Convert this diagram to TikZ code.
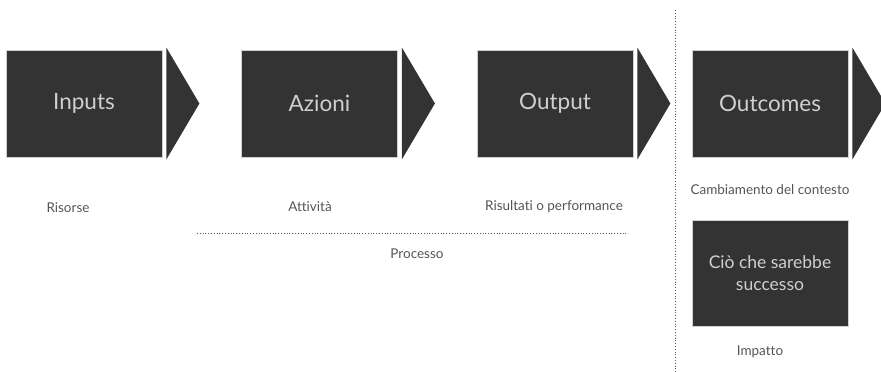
\documentclass[tikz,border=0pt]{standalone}
\usepackage{fontspec}
\setmainfont[Ligatures=NoCommon]{Lato}
\definecolor{boxfill}{HTML}{333333}
\definecolor{boxedge}{HTML}{D0D0D0}
\definecolor{boxtext}{HTML}{CFCFCF}
\definecolor{labtext}{HTML}{555555}
\definecolor{linecol}{HTML}{555555}
\tikzset{
  stagebox/.style={draw=boxedge, line width=0.8pt, fill=boxfill, minimum width=156pt, minimum height=107pt, inner sep=0pt, text=boxtext, font=\fontsize{22.5}{26}\selectfont, align=center},
  lab/.style={text=labtext, font=\fontsize{13.5}{16}\selectfont, inner sep=0pt},
  dotline/.style={draw=linecol, line width=0.9pt, dash pattern=on 1pt off 1.8pt}
}
\begin{document}
\begin{tikzpicture}[x=1pt,y=-1pt]
\useasboundingbox (0,0) rectangle (881,372);
\node[stagebox] (in) at (84,103.5) {Inputs};
\node[stagebox] (az) at (319.5,103.5) {Azioni};
\node[stagebox] (out) at (555,103.5) {Output};
\node[stagebox] (oc) at (770,103.5) {Outcomes};
\foreach \n in {in,az,out,oc}{
  \fill[boxfill] ([xshift=4pt,yshift=2pt]\n.north east) -- ([xshift=37pt]\n.east) -- ([xshift=4pt,yshift=-2pt]\n.south east) -- cycle;
}
\node[lab] (ris) at (68,208) {Risorse};
\node[lab] (att) at (310,207) {Attività};
\node[lab] (res) at (554,207) {Risultati o performance};
\coordinate (pl) at (197,233);
\coordinate (pr) at (627,233);
\draw[dotline] (pl) -- (pr);
\node[lab] (proc) at (417,254) {Processo};
\coordinate (vt) at (675,10);
\coordinate (vb) at (675,372);
\draw[dotline] (vt) -- (vb);
\node[lab] (camb) at (770,190) {Cambiamento del contesto};
\node[stagebox, minimum height=106pt, font=\fontsize{17.5}{22}\selectfont] (cio) at (770,273) {Ciò che sarebbe\\successo};
\node[lab] (imp) at (760,352) {Impatto};
\end{tikzpicture}
\end{document}
